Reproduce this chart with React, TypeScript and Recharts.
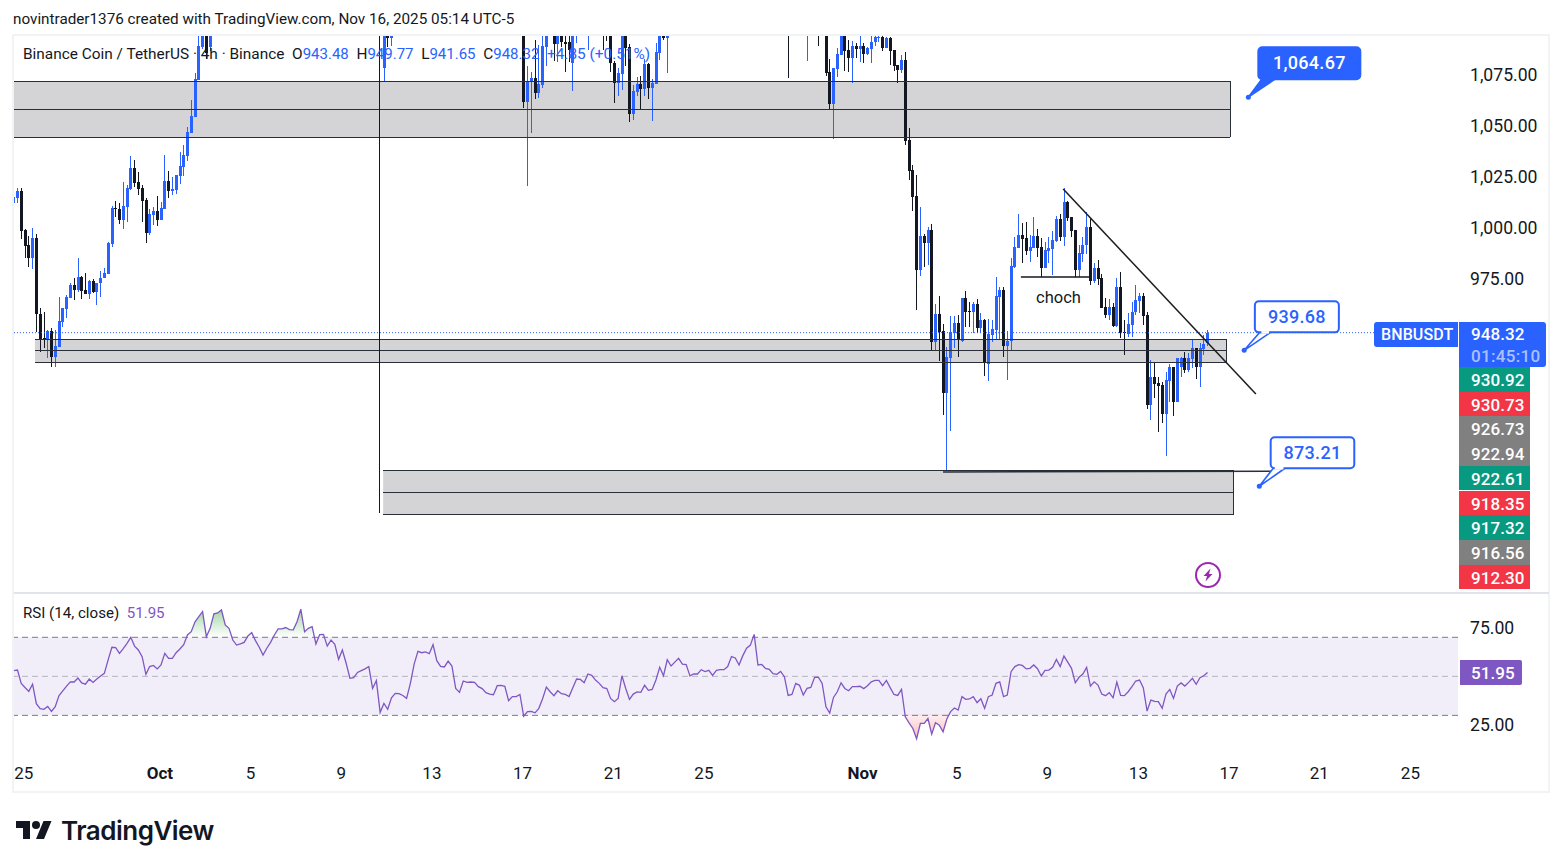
import React from 'react';
import {
  Area,
  Bar,
  ComposedChart,
  Line,
  ReferenceArea,
  ReferenceDot,
  ReferenceLine,
  XAxis,
  YAxis,
} from 'recharts';

const UP = '#2962ff';
const DOWN = '#131722';
const LINE = '#2a2e39';
const RSI_COLOR = '#7e57c2';
const TEXT = '#131722';
const FONT = 'Roboto, sans-serif';

// 4h bars, numbered from the first one on the chart. Bars that sit fully above
// the visible price range are not listed, only the runs that show up.
const candleRuns = [
  [0, 52], [98, 100], [135, 141], [143, 149], [152, 152], [156, 173],
  [205, 205], [210, 210], [213, 213], [215, 316],
];

const opens = [
  1011.5, 1014.3, 1017.4, 998.5, 991.2, 985, 994.4, 957.7, 945.5, 944.7,
  949.1, 936.6, 941.4, 953.7, 960, 965.4, 971.6, 969.2, 975.5, 969,
  967.2, 973.7, 968.3, 972.4, 974.9, 977.1, 991.8, 1009.1, 1008.8, 1003.4,
  1009.9, 1018.5, 1028.8, 1022, 1018.9, 1013.2, 997.2, 1005.8, 1007.8, 1003.4,
  1008.9, 1022.5, 1017.7, 1018, 1024.9, 1029.5, 1034.7, 1046.1, 1053.9, 1071.9,
  1087.8, 1099, 1088,
  1078, 1100, 1092.2,
  1100, 1061.3, 1071, 1072.7, 1065.3, 1069.4, 1088.2,
  1100, 1089.5, 1100, 1090.6, 1090.3, 1080.3, 1099,
  1098,
  1106, 1104, 1102, 1080.3, 1070.5, 1074.8, 1100, 1087.8, 1055.2, 1066.1, 1069.7, 1067.5, 1079.7, 1068.1, 1069.9, 1085.2, 1100, 1092.2,
  1112, 1108, 1106,
  1100, 1075.6, 1060.1, 1077.2, 1084.1, 1100, 1086.5, 1082.8, 1088.5, 1087,
  1088.5, 1084.6, 1087, 1090.3, 1092.7, 1093, 1087.3, 1092.2, 1086.5, 1079.2,
  1076.7, 1081.6, 1042.5, 1027.8, 1015.1, 979, 995.6, 992, 998.5, 943.9,
  957.4, 949.1, 919, 936.1, 948.3, 953.2, 944.3, 965.1, 959, 958.6,
  962.4, 950.5, 954.5, 933, 947.2, 949.7, 966, 969.2, 942, 944.3,
  980.6, 989.9, 996.1, 994.5, 988.4, 989.7, 995.6, 990.1, 980, 988.4,
  989.3, 993.3, 1003.8, 995.3, 1012.1, 1005.1, 998.5, 979, 986.8, 991.2,
  999.9, 973.4, 980, 974.9, 960.7, 957, 960.7, 951.8, 970.5, 948.7,
  947.5, 952.1, 958.5, 964, 966.3, 957, 913, 926.8, 923.6, 922.8,
  908.6, 924.9, 931.7, 914.6, 931.4, 936.1, 930.1, 935.3, 941, 931.7,
  940.2, 943.48,
];

const highs = [
  1018.4, 1018.9, 1018.9, 998.8, 995.6, 999.3, 996.5, 960.2, 958.2, 949.6,
  950.4, 949.6, 965.9, 960.2, 966.7, 972.4, 974.9, 984.6, 976, 977.3,
  974, 974.4, 972.4, 978.5, 979.9, 992.6, 1010.2, 1012.5, 1011.5, 1022,
  1020.5, 1034.7, 1032.7, 1026.7, 1020.5, 1014, 1008.8, 1009.9, 1015.1, 1012.2,
  1035.2, 1027.3, 1024.6, 1025.4, 1036.6, 1040, 1048.7, 1062.1, 1075.4, 1098,
  1104, 1102, 1101,
  1106, 1105, 1105,
  1105, 1078.7, 1075.8, 1091.4, 1089, 1093.4, 1103,
  1105, 1104, 1105, 1099, 1100, 1103, 1106,
  1106,
  1110, 1108, 1106, 1081, 1078, 1102, 1104, 1089.3, 1069.4, 1073.5, 1073.8, 1082, 1080, 1072.2, 1089.8, 1103, 1104, 1102,
  1116, 1116, 1110,
  1104, 1082.4, 1078, 1087.3, 1102, 1104, 1091.4, 1090.9, 1089.8, 1093.4,
  1090.1, 1087.8, 1096, 1096, 1096, 1094, 1093, 1093, 1086.5, 1079.2,
  1084.1, 1085.4, 1048.2, 1030.3, 1025.4, 1009.9, 996.5, 1000.1, 1001.4, 962.3,
  966.2, 952.5, 941.4, 956.5, 956.5, 957, 965.1, 968.7, 963.2, 963.2,
  964.8, 957.8, 954.9, 954.9, 954.5, 975.4, 970.5, 970.5, 949.2, 984.7,
  995, 1006.4, 1002, 1002.3, 996.1, 1005.1, 998.9, 994.5, 992.8, 995,
  998.1, 1005.4, 1006.4, 1018.9, 1012.9, 1005.1, 998.5, 991.2, 995.3, 1007.5,
  1004, 982.3, 983.9, 977, 965.1, 964.8, 962.7, 974.9, 977.9, 954.5,
  957.8, 963.2, 971.7, 967.6, 967.6, 958.6, 935, 934.2, 926.8, 924.4,
  929.3, 932.9, 931.7, 936.1, 936.6, 938.7, 938.2, 944.8, 941, 943.1,
  947.2, 949.77,
];

const lows = [
  1007.1, 1011.5, 994.1, 985, 980.6, 979.6, 948.8, 939, 940.6, 935.7,
  931.7, 931.7, 941.1, 951.2, 955.3, 965.1, 964.3, 968.3, 964.6, 967,
  964.9, 967.8, 961.8, 965.9, 974.9, 977, 990.3, 1005, 1001.4, 999,
  1002.6, 1018, 1019.7, 1015.6, 1002.6, 992.3, 996, 1001, 1000.6, 1003.4,
  1008.8, 1014.3, 1015.6, 1016.1, 1021, 1024.9, 1032.2, 1045.8, 1053.6, 1071.9,
  1087, 1082.4, 1086,
  1071.4, 1088.2, 1088.5,
  1058.3, 1020.2, 1046.1, 1062.4, 1063.2, 1068.1, 1078.9,
  1081.1, 1080.5, 1088, 1075.9, 1080.8, 1066.5, 1090,
  1086.5,
  1086.8, 1090.9, 1075.9, 1060.8, 1064.2, 1067, 1078.7, 1051.5, 1052.3, 1064.2, 1057.7, 1064.2, 1062.4, 1052, 1069.9, 1081.6, 1091.4, 1075.1,
  1073, 1081.3, 1088.5,
  1074, 1057.7, 1042.8, 1073.5, 1084, 1076.4, 1075.9, 1070.2, 1082.8, 1080.8,
  1080.3, 1084.1, 1080.3, 1088.5, 1090.6, 1086.2, 1087.3, 1079.2, 1076.4, 1070.5,
  1075.1, 1040, 1023, 1007.8, 959.4, 976, 980.2, 981.4, 939.5, 939.5,
  934.6, 908, 881.1, 900.4, 941, 936.6, 944, 951.3, 951.1, 948,
  948, 948, 927.2, 924.9, 944, 944.8, 945, 936.6, 925.2, 939.4,
  979.8, 989.6, 982.3, 986.3, 982.7, 989.6, 985.2, 975.4, 979.8, 982.3,
  976.5, 992.8, 993.3, 990.9, 1003.1, 995.3, 975.7, 975.7, 983.1, 986.8,
  971.7, 972.5, 971.7, 960.6, 955.4, 954.5, 951.3, 951.3, 945.6, 937.4,
  946.4, 946.4, 957, 957.8, 952.1, 910.9, 905.6, 916.2, 899.9, 904.3,
  888, 914.6, 907.6, 914.6, 926.8, 928.5, 929.3, 930.9, 925.7, 921.6,
  937.4, 941.65,
];

const closes = [
  1014.8, 1017.4, 998.2, 990.8, 985, 994.4, 957.6, 945, 945, 949.1,
  936.6, 941.8, 954, 960.2, 965.7, 971.6, 969.2, 975.4, 968.8, 967.2,
  973.7, 968.3, 972.4, 974.9, 977.3, 992, 1009.3, 1008.8, 1003.4, 1010.2,
  1019, 1028.8, 1021.6, 1018.7, 1012.7, 997.2, 1006.3, 1007.8, 1003.4, 1009.3,
  1022.5, 1017.7, 1018.7, 1025.4, 1029.8, 1035.2, 1046.4, 1054.2, 1072.2, 1088.5,
  1099, 1084.9, 1096,
  1102, 1092.2, 1100,
  1061.3, 1071, 1072.7, 1065.3, 1069.7, 1088.5, 1098,
  1089.5, 1100, 1090.6, 1089.5, 1086.8, 1099, 1103,
  1102,
  1100, 1098, 1080, 1070.5, 1075.1, 1098, 1087.3, 1055.2, 1066.5, 1069.7, 1067.5, 1079.7, 1068.1, 1070.2, 1085.4, 1098, 1092.2, 1098,
  1106, 1112, 1102,
  1075.4, 1060.1, 1077.6, 1084.6, 1098, 1086.2, 1082.8, 1088.5, 1087, 1088.5,
  1084.6, 1087.5, 1090.6, 1093, 1093, 1087.7, 1092.6, 1086.2, 1078.7, 1076.7,
  1081.6, 1042.2, 1027.4, 1014.8, 979, 995.6, 992, 998.5, 943.9, 957.4,
  948.8, 919, 936.6, 948.5, 952.9, 945.1, 965.1, 958.6, 958.5, 962.4,
  950.5, 954.5, 933.4, 947.5, 950.1, 966.3, 969.2, 942, 944.3, 981,
  990.1, 996.1, 994.1, 988.4, 990.1, 995.6, 989.6, 980, 988.8, 989.6,
  993.7, 1003.8, 995.3, 1012.1, 1004.6, 998.2, 979, 987.1, 991.2, 999.9,
  973.8, 980, 974.4, 960.6, 957, 960.7, 951.8, 970.5, 948.3, 948,
  952.4, 958.6, 964.3, 966.3, 956.7, 913, 926.8, 923.2, 922.3, 908.6,
  925.2, 931.7, 914.6, 936.1, 936.1, 930.1, 936.1, 941, 931.7, 941,
  942.8, 948.32,
];

const rsiValues = [
  52.9, 53.2, 46.4, 44.3, 42.3, 46, 36, 33.4, 33.1, 34.6,
  32, 34.4, 40.1, 42.5, 45, 47.2, 47.1, 49.1, 46.6, 46,
  48.6, 46.9, 48.6, 50.2, 51.5, 58.4, 64.9, 64.7, 61.8, 64.2,
  66.9, 70, 65.5, 63.5, 60.1, 51, 55, 55.6, 53.8, 55.8,
  61.8, 59.2, 59.2, 62.1, 64, 66.2, 71.2, 72.9, 77.9, 80.6,
  83.2, 70.3, 74.6, 82, 82.5, 84, 76.3, 74.6, 68.6, 66,
  66.6, 67.4, 70.7, 72.4, 68.3, 64.9, 60.9, 64.4, 67.4, 71.2,
  74.3, 74.3, 75, 73.9, 73.8, 78, 84.4, 72.9, 74.6, 75.5,
  66.6, 71.4, 71.5, 65.5, 68.6, 66.4, 58.7, 63.5, 56.7, 49,
  49.3, 52, 52.9, 53.8, 55, 43.8, 47.8, 31.5, 36.1, 33.1,
  39, 41.3, 41.1, 40.2, 38.7, 46.4, 56.3, 62.8, 62.1, 62.5,
  61.6, 66.2, 58, 55.1, 54.8, 57.8, 55.3, 43.8, 41.8, 47.6,
  46.9, 47.1, 46.9, 44.7, 43.7, 41.6, 40.9, 40.6, 45.2, 45.4,
  44.9, 37.5, 39.6, 39.6, 40.7, 29.6, 31.9, 32, 31.3, 33.6,
  38.5, 44.5, 42.1, 40.1, 42.6, 41.1, 40.7, 39.6, 44.2, 48.6,
  48.4, 46.7, 51.2, 50.5, 48.1, 46.4, 44.2, 43.7, 38.7, 37,
  38.7, 50.3, 43.8, 38.2, 40.9, 42, 41.8, 45.4, 42.8, 43.3,
  48.1, 54.6, 50.3, 58.5, 55.3, 57.3, 59.2, 56.3, 56, 50.2,
  51.2, 51.2, 53.4, 52.4, 53.1, 50.5, 53.1, 53.4, 53.4, 55,
  60.1, 59.4, 55.8, 60.6, 64.4, 66, 71.5, 55.8, 56.1, 54.1,
  53.6, 51.4, 51, 52.5, 49.8, 40.2, 40.7, 46.4, 45.4, 40.4,
  43.8, 44.3, 49.5, 49.6, 46.4, 34.4, 31.2, 39.2, 42.1, 46.7,
  43.8, 42.6, 44.7, 44.7, 44.9, 43.7, 45.2, 47.2, 47.9, 47.9,
  45.2, 47.9, 44.2, 40.7, 40.2, 43.3, 29.3, 26.2, 23.3, 18,
  25.9, 25.9, 28.4, 20.4, 26.2, 25, 21.6, 28.1, 31.9, 33.8,
  32.7, 39.6, 38.2, 38.4, 39.6, 36.5, 38.5, 33.6, 39.6, 40.4,
  46.4, 47.2, 39.6, 40.4, 52.4, 55, 56, 55.6, 53.8, 54.1,
  55.8, 53.9, 50.2, 53.1, 53.2, 54.6, 58.7, 55, 60.4, 57.3,
  54.1, 46.7, 49.5, 51.2, 54.6, 45, 47.2, 45.5, 40.9, 40.1,
  41.6, 39, 47.1, 40.2, 40.1, 42.1, 44.7, 47.6, 48.1, 44.2,
  32.2, 37.8, 37.2, 37, 33.6, 40.9, 43.3, 38.7, 45, 46.6,
  45, 46.9, 49, 45.9, 49.3, 50.3, 51.95,
];

const priceTicks = [975, 1000, 1025, 1050, 1075];
const rsiTicks = [25, 75];
const timeTicks = [2.7, 38.7, 62.7, 86.7, 110.7, 134.7, 158.7, 182.7, 224.7, 249.6, 273.6, 297.7, 321.7, 345.6, 369.7];
const timeLabels = ['25', 'Oct', '5', '9', '13', '17', '21', '25', 'Nov', '5', '9', '13', '17', '21', '25'];

// supply / demand rectangles drawn on the chart: bar range, then top, middle and bottom price
const zones = [
  { from: -0.18, to: 322, top: 1071.2, mid: 1057.5, bottom: 1043.8 },
  { from: 5.65, to: 321, top: 945, mid: 939.6, bottom: 933.7 },
  { from: 97.8, to: 323, top: 880.9, mid: 870.2, bottom: 859.4 },
];

const priceTags = [
  { label: '930.92', color: '#089981' },
  { label: '930.73', color: '#f23645' },
  { label: '926.73', color: '#808080' },
  { label: '922.94', color: '#808080' },
  { label: '922.61', color: '#089981' },
  { label: '918.35', color: '#f23645' },
  { label: '917.32', color: '#089981' },
  { label: '916.56', color: '#808080' },
  { label: '912.30', color: '#f23645' },
];

const legendValues = [
  { key: 'O', value: '943.48' },
  { key: 'H', value: '949.77' },
  { key: 'L', value: '941.65' },
  { key: 'C', value: '948.32' },
];

const candleBars = candleRuns.flatMap(([from, to]) =>
  Array.from({ length: to - from + 1 }, (_, k) => from + k),
);
const candles = candleBars.map((bar, k) => ({
  bar,
  open: opens[k],
  high: highs[k],
  low: lows[k],
  close: closes[k],
}));
const rsiRows = rsiValues.map((rsi, bar) => ({ bar, rsi }));

const X_DOMAIN = [-0.18, 382.3];
const PRICE_DOMAIN = [821.5, 1093.9];
const RSI_DOMAIN = [10.2, 92.7];

function Candle(props: any) {
  const { x, y, width, height, payload } = props;
  const { open, high, low, close } = payload;
  const cx = Math.round(x + width / 2);
  const top = Math.min(y, y + height);
  const perUnit = Math.abs(height) / (high - low);
  const bodyTop = top + (high - Math.max(open, close)) * perUnit;
  const bodyHeight = Math.max(Math.abs(open - close) * perUnit, 1);
  const color = close >= open ? UP : DOWN;
  return (
    <g shapeRendering="crispEdges">
      <rect x={cx} y={top} width={1} height={Math.abs(height)} fill={color} />
      <rect x={cx - 1} y={bodyTop} width={3} height={bodyHeight} fill={color} />
    </g>
  );
}

function PriceNote(props: any) {
  const { cx, cy, text, box, tail, filled } = props;
  const [left, top, w, h] = box;
  const bottom = top + h;
  const inner = filled ? UP : '#fff';
  return (
    <g>
      <path
        d={`M0 0 L${tail[0]} ${bottom} L${tail[1]} ${bottom} Z`}
        transform={`translate(${cx} ${cy})`}
        fill={inner}
        stroke={UP}
        strokeWidth={1.6}
        strokeLinejoin="round"
      />
      <circle cx={cx} cy={cy} r={2.5} fill={UP} />
      <rect x={cx + left} y={cy + top} width={w} height={h} rx={4} fill={inner} stroke={UP} strokeWidth={2} />
      <path
        d={`M${cx + tail[0] + 1.5} ${cy + bottom} L${cx + tail[1] - 1.5} ${cy + bottom}`}
        stroke={inner}
        strokeWidth={2.5}
      />
      <text
        x={cx + left + w / 2}
        y={cy + top + h / 2 + 6}
        textAnchor="middle"
        fontFamily={FONT}
        fontSize={18}
        fontWeight={500}
        letterSpacing={0.3}
        fill={filled ? '#fff' : UP}
      >
        {text}
      </text>
    </g>
  );
}

function TimeTick(props: any) {
  const { x, y, payload } = props;
  const label = timeLabels[timeTicks.indexOf(payload.value)];
  const isMonth = label === 'Oct' || label === 'Nov';
  return (
    <text
      x={x}
      y={y}
      textAnchor="middle"
      dominantBaseline="central"
      fontFamily={FONT}
      fontSize={17}
      fontWeight={isMonth ? 700 : 400}
      fill={TEXT}
    >
      {label}
    </text>
  );
}

const axisText = { fill: TEXT, fontSize: 17.6, fontFamily: FONT };

function PriceChart() {
  return (
    <ComposedChart
      width={1563}
      height={868}
      data={candles}
      margin={{ top: 35, right: 0, bottom: 276, left: 13 }}
    >
      <XAxis type="number" dataKey="bar" domain={X_DOMAIN} allowDataOverflow hide />
      <YAxis
        orientation="right"
        type="number"
        width={105}
        domain={PRICE_DOMAIN}
        allowDataOverflow
        ticks={priceTicks}
        tickFormatter={(v: number) => v.toLocaleString('en-US', { minimumFractionDigits: 2 })}
        tick={{ ...axisText, dy: 1 }}
        tickSize={0}
        tickMargin={12}
        axisLine={false}
        tickLine={false}
      />
      {zones.map((z) => (
        <ReferenceArea
          key={z.top}
          x1={z.from}
          x2={z.to}
          y1={z.bottom}
          y2={z.top}
          fill="#d4d4d6"
          fillOpacity={1}
          stroke="none"
        />
      ))}
      {zones.flatMap((z) =>
        [z.top, z.mid, z.bottom].map((price) => (
          <ReferenceLine
            key={price}
            segment={[{ x: z.from, y: price }, { x: z.to, y: price }]}
            stroke={LINE}
            shapeRendering="crispEdges"
          />
        )),
      )}
      {zones.map((z) => (
        <ReferenceLine
          key={z.to}
          segment={[{ x: z.to, y: z.top }, { x: z.to, y: z.bottom }]}
          stroke={LINE}
          shapeRendering="crispEdges"
        />
      ))}
      <ReferenceLine y={948.32} stroke={UP} strokeDasharray="1 2" />
      <Bar
        dataKey={(d: any) => [d.low, d.high]}
        barSize={3}
        shape={Candle}
        isAnimationActive={false}
      />
      <ReferenceLine
        segment={[{ x: 96.83, y: 1093.9 }, { x: 96.83, y: 860.2 }]}
        stroke={DOWN}
        shapeRendering="crispEdges"
      />
      <ReferenceLine segment={[{ x: 277.8, y: 1018.6 }, { x: 328.8, y: 918.3 }]} stroke="#1c1c1c" strokeWidth={1.5} />
      <ReferenceLine segment={[{ x: 266.6, y: 975.5 }, { x: 284.8, y: 975.5 }]} stroke={DOWN} strokeWidth={1.5} />
      <ReferenceLine segment={[{ x: 246, y: 880.2 }, { x: 333.9, y: 880.6 }]} stroke={LINE} strokeWidth={1.5} />
      <ReferenceDot
        x={326.8}
        y={1063.5}
        r={0}
        shape={(p: any) => (
          <PriceNote {...p} text="1,064.67" box={[10, -50, 102, 32]} tail={[13.4, 26.7]} filled />
        )}
      />
      <ReferenceDot
        x={325.7}
        y={939.68}
        r={0}
        shape={(p: any) => (
          <PriceNote {...p} text="939.68" box={[10.7, -49, 84, 31]} tail={[15.7, 26.4]} />
        )}
      />
      <ReferenceDot
        x={329.7}
        y={873.21}
        r={0}
        shape={(p: any) => (
          <PriceNote {...p} text="873.21" box={[11.4, -49, 83.6, 31]} tail={[14, 25.7]} />
        )}
      />
    </ComposedChart>
  );
}

function RsiChart() {
  return (
    <ComposedChart
      width={1563}
      height={868}
      data={rsiRows}
      margin={{ top: 593, right: 0, bottom: 75, left: 13 }}
    >
      <defs>
        <linearGradient id="rsiZones" gradientUnits="userSpaceOnUse" x1="0" y1="610" x2="0" y2="740">
          <stop offset="0" stopColor="#4caf50" stopOpacity={0.5} />
          <stop offset="0.21" stopColor="#4caf50" stopOpacity={0} />
          <stop offset="0.8" stopColor="#f23645" stopOpacity={0} />
          <stop offset="0.805" stopColor="#f23645" stopOpacity={0.08} />
          <stop offset="1" stopColor="#f23645" stopOpacity={0.35} />
        </linearGradient>
      </defs>
      <XAxis
        type="number"
        dataKey="bar"
        domain={X_DOMAIN}
        allowDataOverflow
        ticks={timeTicks}
        interval={0}
        height={39}
        tick={TimeTick}
        tickSize={0}
        tickMargin={19}
        axisLine={false}
        tickLine={false}
      />
      <YAxis
        orientation="right"
        type="number"
        width={105}
        domain={RSI_DOMAIN}
        allowDataOverflow
        ticks={rsiTicks}
        tickFormatter={(v: number) => v.toFixed(2)}
        tick={axisText}
        tickSize={0}
        tickMargin={12}
        axisLine={false}
        tickLine={false}
      />
      <ReferenceArea y1={30} y2={70} fill={RSI_COLOR} fillOpacity={0.1} stroke="none" />
      <ReferenceLine y={70} stroke="#787b86" strokeDasharray="6 4" />
      <ReferenceLine y={50} stroke="#b2b5be" strokeDasharray="6 4" />
      <ReferenceLine y={30} stroke="#787b86" strokeDasharray="6 4" />
      <Area
        dataKey="rsi"
        baseValue={70}
        type="linear"
        stroke="none"
        fill="url(#rsiZones)"
        fillOpacity={1}
        dot={false}
        activeDot={false}
        isAnimationActive={false}
      />
      <Line
        dataKey="rsi"
        type="linear"
        stroke={RSI_COLOR}
        strokeWidth={1.3}
        dot={false}
        activeDot={false}
        isAnimationActive={false}
      />
    </ComposedChart>
  );
}

const box = (left: number, top: number, width: number, height: number): React.CSSProperties => ({
  position: 'absolute',
  left,
  top,
  width,
  height,
});

const tagText: React.CSSProperties = {
  color: '#fff',
  fontFamily: FONT,
  fontSize: 17,
  fontWeight: 500,
  letterSpacing: 0.1,
  whiteSpace: 'nowrap',
  paddingLeft: 12,
  boxSizing: 'border-box',
};

const paneText: React.CSSProperties = {
  position: 'absolute',
  left: 23,
  fontFamily: FONT,
  fontSize: 15.4,
  lineHeight: '18px',
  color: TEXT,
  whiteSpace: 'pre',
};

function Overlay() {
  return (
    <>
      <div
        style={{
          position: 'absolute',
          left: 13,
          top: 10,
          fontFamily: FONT,
          fontSize: 15.26,
          lineHeight: '18px',
          color: TEXT,
          whiteSpace: 'nowrap',
        }}
      >
        novintrader1376 created with TradingView.com, Nov 16, 2025 05:14 UTC-5
      </div>
      <div style={{ ...box(12, 34, 1538, 759), border: '2px solid #f2f3f5', boxSizing: 'border-box' }} />
      <div style={{ ...box(14, 592, 1535, 1.5), background: '#e0e3eb' }} />

      <div style={{ ...paneText, top: 45 }}>
        {'Binance Coin / TetherUS · 4h · Binance  '}
        {legendValues.map((item) => (
          <span key={item.key}>
            {item.key}
            <span style={{ color: UP, fontSize: 15 }}>{item.value}</span>
            {'  '}
          </span>
        ))}
        <span style={{ color: UP }}>{'+4.85 (+0.51%)'}</span>
      </div>

      <div style={{ ...paneText, top: 604, fontSize: 15.1 }}>
        {'RSI (14, close)  '}
        <span style={{ color: RSI_COLOR }}>51.95</span>
      </div>

      <div
        style={{
          position: 'absolute',
          left: 1036,
          top: 288,
          fontFamily: FONT,
          fontSize: 16.5,
          lineHeight: '20px',
          color: TEXT,
        }}
      >
        choch
      </div>

      <div
        style={{
          ...box(1374, 322, 84, 25),
          ...tagText,
          paddingLeft: 7,
          fontSize: 16,
          background: UP,
          lineHeight: '26px',
          borderRadius: '3px 0 0 3px',
        }}
      >
        BNBUSDT
      </div>
      <div
        style={{
          ...box(1459, 322, 87, 45),
          ...tagText,
          background: UP,
          lineHeight: '22px',
          paddingTop: 1,
          borderRadius: '0 3px 3px 0',
        }}
      >
        <div>948.32</div>
        <div style={{ color: 'rgba(255,255,255,0.62)', letterSpacing: 0.3 }}>01:45:10</div>
      </div>
      {priceTags.map((tag, k) => (
        <div
          key={tag.label}
          style={{
            ...box(1459, 367 + k * 24.7, 71, 24.7),
            ...tagText,
            background: tag.color,
            lineHeight: '26px',
          }}
        >
          {tag.label}
        </div>
      ))}
      <div
        style={{
          ...box(1460, 660, 62, 25),
          ...tagText,
          paddingLeft: 11,
          background: RSI_COLOR,
          lineHeight: '26px',
          borderRadius: '0 2px 2px 0',
        }}
      >
        51.95
      </div>

      <svg style={box(1194, 561, 28, 28)} viewBox="0 0 28 28">
        <circle cx="14" cy="14" r="12" fill="#fff" stroke="#9c27b0" strokeWidth="2" />
        <path d="M16.5 7.5 L9.5 15 L13 15 L11.5 20.5 L18.5 13 L15 13 Z" fill="#9c27b0" />
      </svg>

      <svg style={box(15, 817, 38, 28)} viewBox="0 0 36 28">
        <path d="M14 22H7V11H0V4h14v18zM28 22h-8l7.5-18h8L28 22z" fill="#131722" />
        <circle cx="20" cy="8" r="4" fill="#131722" />
      </svg>
      <div
        style={{
          position: 'absolute',
          left: 61,
          top: 814,
          fontFamily: 'Inter, sans-serif',
          fontSize: 26,
          fontWeight: 600,
          lineHeight: '34px',
          letterSpacing: -0.5,
          color: TEXT,
        }}
      >
        TradingView
      </div>
    </>
  );
}

export default function App() {
  return (
    <div style={{ position: 'absolute', left: 0, top: 0, width: 1563, height: 868, background: '#fff', overflow: 'hidden' }}>
      <div style={{ position: 'absolute', left: 0, top: 0 }}>
        <RsiChart />
      </div>
      <div style={{ position: 'absolute', left: 0, top: 0 }}>
        <PriceChart />
      </div>
      <Overlay />
    </div>
  );
}
